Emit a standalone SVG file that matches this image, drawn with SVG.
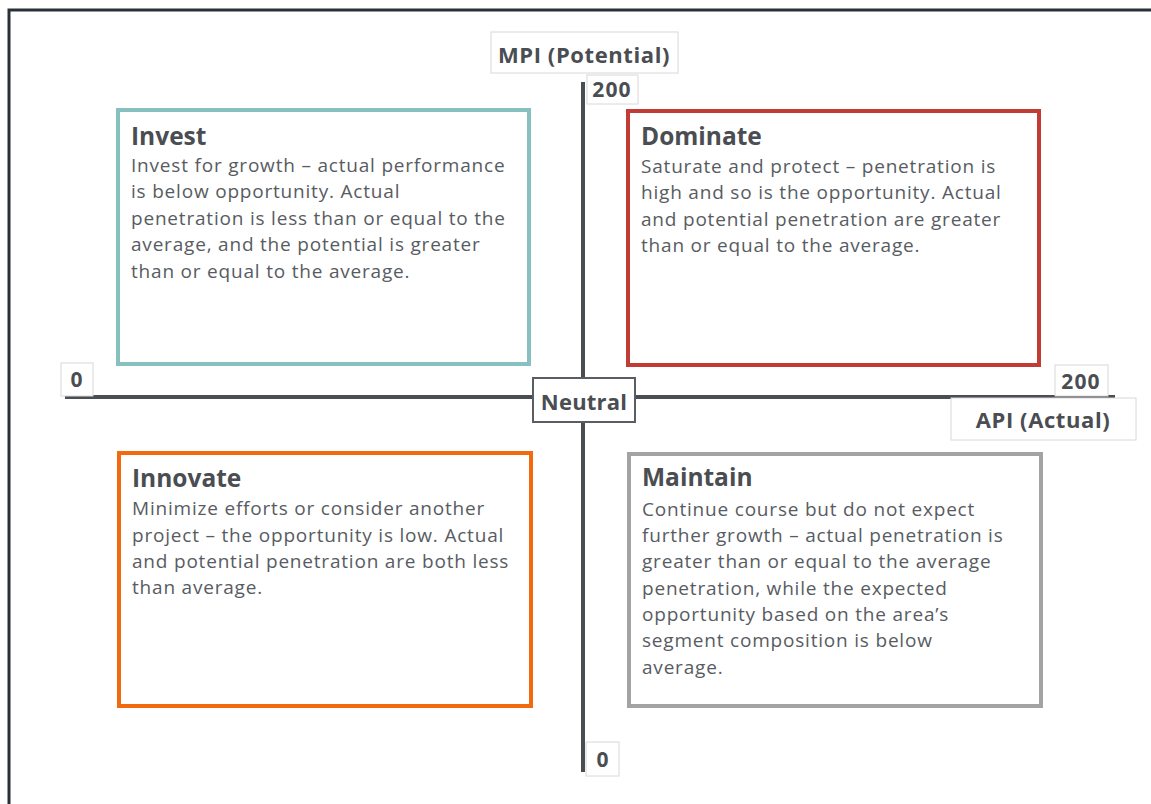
<svg xmlns="http://www.w3.org/2000/svg" width="1151" height="804" viewBox="0 0 1151 804">
<style>
.title{font-family:"Open Sans","Liberation Sans",Arial,sans-serif;font-weight:bold;font-size:24.5px;fill:#4a4d52}
.body{font-family:"Open Sans","Liberation Sans",Arial,sans-serif;font-size:19px;letter-spacing:0.8px;fill:#585c62}
.lbl{font-family:"Open Sans","Liberation Sans",Arial,sans-serif;font-weight:bold;font-size:22px;letter-spacing:0.6px;fill:#4a4d52}
.num{font-family:"Open Sans","Liberation Sans",Arial,sans-serif;font-weight:bold;font-size:21px;letter-spacing:1.2px;fill:#4a4d52}
.lblbox{fill:#fff;stroke:#d8d8d8;stroke-width:1}
.axis{stroke:#4a4d52;stroke-width:4;fill:none}
</style>
<rect x="0" y="0" width="1151" height="804" fill="#fff"/>
<path d="M9,804 V10 H1151" fill="none" stroke="#2a3038" stroke-width="3"/>
<g id="connectors">
<line class="axis" x1="583" y1="82" x2="583" y2="772"/>
<line class="axis" x1="65" y1="397" x2="1115" y2="397"/>
</g>
<g id="invest">
<rect x="118" y="110" width="411" height="254" fill="#fff" stroke="#86c1c0" stroke-width="4"/>
<text class="title" x="131" y="145">Invest</text>
<text class="body" x="131"><tspan x="131" y="172">Invest for growth – actual performance</tspan><tspan x="131" y="198">is below opportunity. Actual</tspan><tspan x="131" y="225">penetration is less than or equal to the</tspan><tspan x="131" y="251">average, and the potential is greater</tspan><tspan x="131" y="278">than or equal to the average.</tspan></text>
</g>
<g id="dominate">
<rect x="628" y="111" width="411" height="254" fill="#fff" stroke="#c23b35" stroke-width="4"/>
<text class="title" x="641" y="145">Dominate</text>
<text class="body"><tspan x="641" y="173">Saturate and protect – penetration is</tspan><tspan x="641" y="199">high and so is the opportunity. Actual</tspan><tspan x="641" y="226">and potential penetration are greater</tspan><tspan x="641" y="252">than or equal to the average.</tspan></text>
</g>
<g id="innovate">
<rect x="119" y="453" width="412" height="253" fill="#fff" stroke="#f26a0d" stroke-width="4"/>
<text class="title" x="132" y="487">Innovate</text>
<text class="body"><tspan x="132" y="515">Minimize efforts or consider another</tspan><tspan x="132" y="542">project – the opportunity is low. Actual</tspan><tspan x="132" y="568">and potential penetration are both less</tspan><tspan x="132" y="594">than average.</tspan></text>
</g>
<g id="maintain">
<rect x="629" y="454" width="412" height="252" fill="#fff" stroke="#a3a3a3" stroke-width="4"/>
<text class="title" x="642" y="486">Maintain</text>
<text class="body"><tspan x="642" y="516">Continue course but do not expect</tspan><tspan x="642" y="542">further growth – actual penetration is</tspan><tspan x="642" y="568">greater than or equal to the average</tspan><tspan x="642" y="595">penetration, while the expected</tspan><tspan x="642" y="621">opportunity based on the area’s</tspan><tspan x="642" y="647">segment composition is below</tspan><tspan x="642" y="674">average.</tspan></text>
</g>
<g id="neutral">
<rect x="533" y="378" width="102" height="44" fill="#fff" stroke="#5a5d62" stroke-width="2"/>
<text class="lbl" x="584" y="410" text-anchor="middle" style="letter-spacing:0.2px">Neutral</text>
</g>
<g id="mpi-label">
<rect class="lblbox" x="491" y="32" width="187" height="41"/>
<text class="lbl" x="584" y="63" text-anchor="middle">MPI (Potential)</text>
</g>
<g id="mpi-max">
<rect class="lblbox" x="587" y="75" width="51" height="29"/>
<text class="num" x="612" y="97" text-anchor="middle">200</text>
</g>
<g id="mpi-min">
<rect class="lblbox" x="586" y="742" width="33" height="34"/>
<text class="num" x="603" y="767" text-anchor="middle">0</text>
</g>
<g id="api-min">
<rect class="lblbox" x="61" y="363" width="32" height="33"/>
<text class="num" x="77" y="387" text-anchor="middle">0</text>
</g>
<g id="api-max">
<rect class="lblbox" x="1055" y="365" width="53" height="31"/>
<text class="num" x="1081" y="389" text-anchor="middle">200</text>
</g>
<g id="api-label">
<rect class="lblbox" x="951" y="398" width="185" height="42"/>
<text class="lbl" x="1043" y="428" text-anchor="middle">API (Actual)</text>
</g>
</svg>
